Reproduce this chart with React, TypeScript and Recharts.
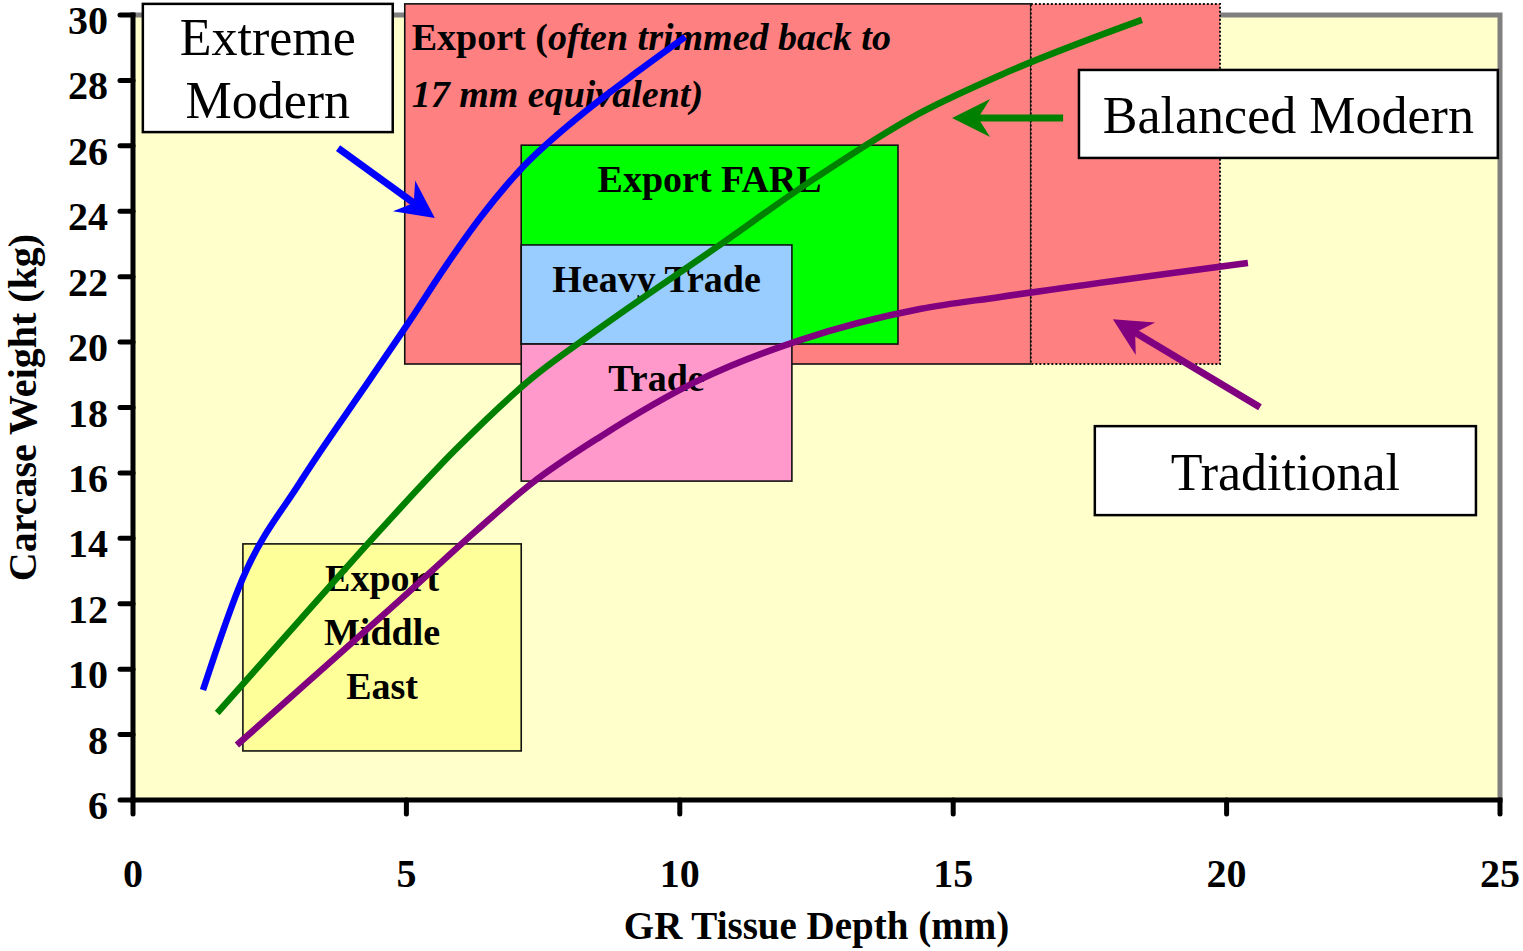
import { ComposedChart, Line, XAxis, YAxis, ReferenceArea, ReferenceLine } from 'recharts'

const SERIF = '"Liberation Serif", "Times New Roman", serif'

// ── Axes ──────────────────────────────────────────────────────────────────────
const xTicks = [0, 5, 10, 15, 20, 25]
const yTicks = [6, 8, 10, 12, 14, 16, 18, 20, 22, 24, 26, 28, 30]

// ── Growth paths: GR tissue depth (mm) vs carcase weight (kg) ─────────────────
const extremeModern = [
  { x: 1.28, y: 9.36 }, { x: 2.0, y: 12.75 }, { x: 3.05, y: 15.7 }, { x: 4.33, y: 18.85 },
  { x: 5.07, y: 20.67 }, { x: 5.71, y: 22.3 }, { x: 6.35, y: 23.8 }, { x: 7.13, y: 25.35 },
  { x: 8.08, y: 26.79 }, { x: 9.27, y: 28.32 }, { x: 10.1, y: 29.33 },
]

const balancedModern = [
  { x: 1.54, y: 8.66 }, { x: 3.05, y: 11.5 }, { x: 4.52, y: 14.25 }, { x: 5.89, y: 16.7 },
  { x: 7.32, y: 18.93 }, { x: 8.49, y: 20.37 }, { x: 10.68, y: 22.91 }, { x: 12.51, y: 25.05 },
  { x: 14.39, y: 27.0 }, { x: 15.86, y: 28.16 }, { x: 18.45, y: 29.85 },
]

const traditional = [
  { x: 1.9, y: 7.68 }, { x: 3.05, y: 9.39 }, { x: 4.88, y: 12.11 }, { x: 6.29, y: 14.25 },
  { x: 7.3, y: 15.69 }, { x: 8.54, y: 17.1 }, { x: 10.37, y: 18.85 }, { x: 12.2, y: 20.06 },
  { x: 14.39, y: 21.01 }, { x: 15.86, y: 21.38 }, { x: 20.39, y: 22.42 },
]

// ── Market specification windows (GR mm range, weight kg range) ───────────────
const zoneIds = ['export', 'exportTrim', 'farl', 'heavy', 'trade', 'middleEast']
const zoneGR = [[4.97, 16.42], [16.42, 19.88], [7.1, 13.99], [7.1, 12.05], [7.1, 12.05], [2.01, 7.1]]
const zoneKg = [[19.33, 30.34], [19.33, 30.34], [19.94, 26.02], [19.94, 22.97], [15.75, 19.94], [7.5, 13.83]]
const zoneLabels: Record<string, string[]> = {
  farl: ['Export FARL'],
  heavy: ['Heavy Trade'],
  trade: ['Trade'],
  middleEast: ['Export', 'Middle', 'East'],
}
const exportNote = ['Export (', 'often trimmed back to', '17 mm equivalent)']

const zoneFill: Record<string, string> = {
  export: '#FF8080',
  exportTrim: '#FF8080',
  farl: '#00FF00',
  heavy: '#99CCFF',
  trade: '#FF99CC',
  middleEast: '#FFFF99',
}

// ── Callout boxes and their arrows ────────────────────────────────────────────
const calloutText = [['Extreme', 'Modern'], ['Balanced Modern'], ['Traditional']]
const calloutGR = [[0.18, 4.75], [17.3, 24.96], [17.59, 24.56]]
const calloutKg = [[26.42, 30.34], [25.63, 28.32], [14.71, 17.43]]

const arrowColors = ['#0000FF', '#008000', '#800080']
const arrowFrom = [{ x: 3.75, y: 25.93 }, { x: 17.01, y: 26.85 }, { x: 20.61, y: 18.01 }]
const arrowTo = [{ x: 5.52, y: 23.79 }, { x: 14.98, y: 26.85 }, { x: 17.92, y: 20.7 }]

// ── Shapes ────────────────────────────────────────────────────────────────────
function PlotBackground(props: any) {
  const { x, y, width, height } = props
  return (
    <g>
      <rect x={x} y={y} width={width} height={height} fill="#FFFFCC" />
      <path
        d={`M${x},${y} L${x + width},${y} L${x + width},${y + height}`}
        fill="none"
        stroke="#808080"
        strokeWidth={5}
      />
    </g>
  )
}

function ZoneShape(props: any) {
  const { x, y, width, height, id } = props
  const dotted = id === 'exportTrim'
  const lines = zoneLabels[id] ?? []
  const lineGap = 54
  return (
    <g>
      <rect
        x={x}
        y={y}
        width={width}
        height={height}
        fill={zoneFill[id]}
        stroke="#111"
        strokeWidth={dotted ? 2 : 1.6}
        strokeDasharray={dotted ? '2 2' : undefined}
      />
      {id === 'export' && (
        <g fontFamily={SERIF} fontWeight="bold" fontSize={38} fill="#000">
          <text x={x + 7} y={y + 46}>
            {exportNote[0]}
            <tspan fontStyle="italic">{exportNote[1]}</tspan>
          </text>
          <text x={x + 7} y={y + 103} fontStyle="italic">{exportNote[2]}</text>
        </g>
      )}
      {lines.map((t, i) => (
        <text
          key={t}
          x={x + width / 2}
          y={y + 47 + i * lineGap}
          textAnchor="middle"
          fontFamily={SERIF}
          fontWeight="bold"
          fontSize={38}
          fill="#000"
        >
          {t}
        </text>
      ))}
    </g>
  )
}

function CalloutShape(props: any) {
  const { x, y, width, height, lines } = props
  const mid = y + height / 2 + 19
  return (
    <g>
      <rect x={x} y={y} width={width} height={height} fill="#FFFFFF" stroke="#000" strokeWidth={2.5} />
      {lines.map((t: string, i: number) => (
        <text
          key={t}
          x={x + width / 2}
          y={mid + (i - (lines.length - 1) / 2) * 63}
          textAnchor="middle"
          fontFamily={SERIF}
          fontSize={52}
          fill="#000"
        >
          {t}
        </text>
      ))}
    </g>
  )
}

function ArrowShape(props: any) {
  const { x1, y1, x2, y2, color } = props
  const dx = x2 - x1
  const dy = y2 - y1
  const len = Math.hypot(dx, dy) || 1
  const ux = dx / len
  const uy = dy / len
  const px = -uy
  const py = ux
  const L = 38
  const W = 19
  const N = 26
  const bx = x2 - ux * L
  const by = y2 - uy * L
  const nx = x2 - ux * N
  const ny = y2 - uy * N
  const pts = `${x2},${y2} ${bx + px * W},${by + py * W} ${nx},${ny} ${bx - px * W},${by - py * W}`
  return (
    <g>
      <line x1={x1} y1={y1} x2={nx + ux * 2} y2={ny + uy * 2} stroke={color} strokeWidth={7} />
      <polygon points={pts} fill={color} />
    </g>
  )
}

// ── Ticks and titles ──────────────────────────────────────────────────────────
function XTick({ x, y, payload }: any) {
  return (
    <text x={x} y={y + 73} textAnchor="middle" fontFamily={SERIF} fontWeight="bold" fontSize={40} fill="#000">
      {payload.value}
    </text>
  )
}

function YTick({ x, y, payload }: any) {
  return (
    <text x={x} y={y + 19} textAnchor="end" fontFamily={SERIF} fontWeight="bold" fontSize={40} fill="#000">
      {payload.value}
    </text>
  )
}

function XTitle({ viewBox }: any) {
  const vb = viewBox ?? { x: 133, y: 800, width: 1367, height: 151 }
  return (
    <text x={vb.x + vb.width / 2} y={vb.y + 139} textAnchor="middle" fontFamily={SERIF} fontWeight="bold" fontSize={39} fill="#000">
      GR Tissue Depth (mm)
    </text>
  )
}

function YTitle({ viewBox }: any) {
  const vb = viewBox ?? { x: 0, y: 15, width: 133, height: 785 }
  const cx = vb.x + 36
  const cy = vb.y + vb.height / 2
  return (
    <text
      x={cx}
      y={cy}
      transform={`rotate(-90, ${cx}, ${cy})`}
      textAnchor="middle"
      fontFamily={SERIF}
      fontWeight="bold"
      fontSize={40}
      fill="#000"
    >
      Carcase Weight (kg)
    </text>
  )
}

export default function App() {
  const axisLine = { stroke: '#000', strokeWidth: 5, strokeLinecap: 'square' as const }
  const tickLine = { stroke: '#000', strokeWidth: 5, strokeLinecap: 'round' as const }

  return (
    <div style={{ position: 'absolute', left: 0, top: 0, width: 1523, height: 951, background: '#fff' }}>
      <ComposedChart width={1523} height={951} margin={{ top: 15, right: 23, bottom: 0, left: 0 }}>
        <ReferenceArea x1={0} x2={25} y1={6} y2={30} ifOverflow="visible" shape={(p: any) => <PlotBackground {...p} />} />

        {zoneIds.map((id, i) => (
          <ReferenceArea
            key={id}
            x1={zoneGR[i][0]}
            x2={zoneGR[i][1]}
            y1={zoneKg[i][0]}
            y2={zoneKg[i][1]}
            ifOverflow="visible"
            shape={(p: any) => <ZoneShape {...p} id={id} />}
          />
        ))}

        <Line data={extremeModern} dataKey="y" type="monotone" stroke="#0000FF" strokeWidth={6.5} dot={false} activeDot={false} isAnimationActive={false} />
        <Line data={balancedModern} dataKey="y" type="monotone" stroke="#008000" strokeWidth={6.5} dot={false} activeDot={false} isAnimationActive={false} />
        <Line data={traditional} dataKey="y" type="monotone" stroke="#800080" strokeWidth={6.5} dot={false} activeDot={false} isAnimationActive={false} />

        {calloutText.map((lines, i) => (
          <ReferenceArea
            key={lines.join(' ')}
            x1={calloutGR[i][0]}
            x2={calloutGR[i][1]}
            y1={calloutKg[i][0]}
            y2={calloutKg[i][1]}
            ifOverflow="visible"
            shape={(p: any) => <CalloutShape {...p} lines={lines} />}
          />
        ))}

        {arrowColors.map((c, i) => (
          <ReferenceLine
            key={c}
            segment={[arrowFrom[i], arrowTo[i]]}
            ifOverflow="visible"
            shape={(p: any) => <ArrowShape {...p} color={c} />}
          />
        ))}

        <XAxis
          type="number"
          dataKey="x"
          domain={[0, 25]}
          ticks={xTicks}
          interval={0}
          height={151}
          tickSize={14}
          tickMargin={0}
          axisLine={axisLine}
          tickLine={tickLine}
          tick={(p: any) => <XTick {...p} />}
          label={(p: any) => <XTitle {...p} />}
        />
        <YAxis
          type="number"
          domain={[6, 30]}
          ticks={yTicks}
          interval={0}
          width={133}
          tickSize={13}
          tickMargin={12}
          axisLine={axisLine}
          tickLine={tickLine}
          tick={(p: any) => <YTick {...p} />}
          label={(p: any) => <YTitle {...p} />}
        />
      </ComposedChart>
    </div>
  )
}
